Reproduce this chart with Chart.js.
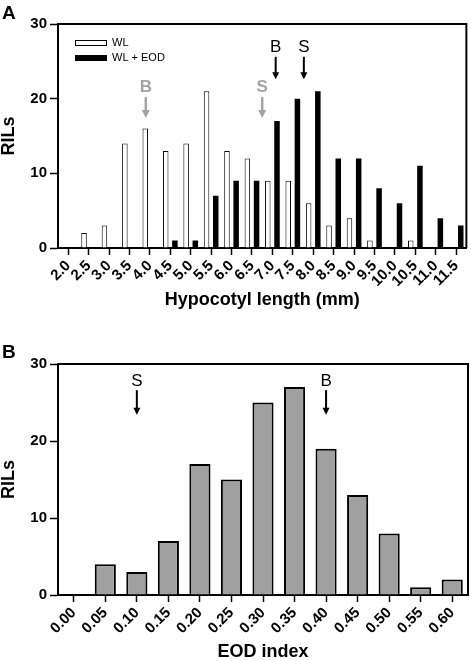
<!DOCTYPE html>
<html>
<head>
<meta charset="utf-8">
<script src="https://cdn.jsdelivr.net/npm/chart.js@4.4.1/dist/chart.umd.min.js"></script>
<style>
  html, body { margin: 0; padding: 0; background: #fff; }
  #fig { position: relative; width: 471px; height: 661px; font-family: "Liberation Sans", Arial, sans-serif; }
  .panel { position: absolute; left: 0; }
  #chart-a { top: 0; }
  #chart-b { top: 330px; }
  .letter { position: absolute; left: 2px; font-weight: bold; font-size: 19px; line-height: 1; }
</style>
</head>
<body>
<div id="fig">
  <canvas id="chart-a" class="panel" width="471" height="330"></canvas>
  <canvas id="chart-b" class="panel" width="471" height="331"></canvas>
  <div class="letter" style="top:3px">A</div>
  <div class="letter" style="top:342px">B</div>
</div>
<script>
/* Panel A: hypocotyl length histograms for the RILs under WL and WL + EOD.
 * Panel B: distribution of the EOD index. Parent lines (B, S) marked by arrows.
 */
(function () {
  "use strict";

  var lengthLabels = ["2.0", "2.5", "3.0", "3.5", "4.0", "4.5", "5.0", "5.5", "6.0", "6.5",
                      "7.0", "7.5", "8.0", "8.5", "9.0", "9.5", "10.0", "10.5", "11.0", "11.5"];
  var wlCounts  = [0, 2, 3, 14, 16, 13, 14, 21, 13, 12, 9, 9, 6, 3, 4, 1, 0, 1, 0, 0];
  var eodCounts = [0, 0, 0, 0, 0, 1, 1, 7, 9, 9, 17, 20, 21, 12, 12, 8, 6, 11, 4, 3];

  // parent means (mm) under WL (grey arrows) and WL + EOD (black arrows)
  var parentNames = ["B", "S"];
  var parentWL  = [3.9, 6.75];
  var parentEOD = [7.08, 7.77];

  var eodLabels = ["0.00", "0.05", "0.10", "0.15", "0.20", "0.25", "0.30",
                   "0.35", "0.40", "0.45", "0.50", "0.55", "0.60"];
  var eodIndexCounts = [0, 4, 3, 7, 17, 15, 25, 27, 19, 13, 8, 1, 2];
  var parentIndexNames = ["S", "B"];
  var parentIndex = [0.10, 0.40];

  var FONT = "'Liberation Sans', Arial, sans-serif";
  Chart.defaults.font.family = FONT;
  Chart.defaults.color = "#000";

  // category position (fractional) of a value on an evenly spaced label axis
  function toCat(labels, v) {
    var first = parseFloat(labels[0]), step = parseFloat(labels[1]) - first;
    return (v - first) / step;
  }

  var arrowPlugin = {
    id: "arrows",
    afterDatasetsDraw: function (chart, args, opts) {
      var ctx = chart.ctx, xs = chart.scales.x, ys = chart.scales.y;
      var items = opts.items || [];
      for (var i = 0; i < items.length; i++) {
        var m = items[i];
        var px = xs.getPixelForValue(m.at);
        var yTop = ys.getPixelForValue(m.fromY), yTip = ys.getPixelForValue(m.toY);
        ctx.save();
        ctx.fillStyle = m.color;
        ctx.strokeStyle = m.color;
        ctx.font = m.font;
        ctx.textAlign = "center";
        ctx.textBaseline = "middle";
        ctx.fillText(m.text, px, ys.getPixelForValue(m.textY));
        ctx.lineWidth = m.width;
        ctx.beginPath();
        ctx.moveTo(px, yTop);
        ctx.lineTo(px, yTip - m.head + 1);
        ctx.stroke();
        ctx.beginPath();
        ctx.moveTo(px - m.head / 2, yTip - m.head);
        ctx.lineTo(px + m.head / 2, yTip - m.head);
        ctx.lineTo(px, yTip);
        ctx.closePath();
        ctx.fill();
        ctx.restore();
      }
    }
  };

  // closed box around the plot plus an optional legend drawn inside it
  var framePlugin = {
    id: "frame",
    afterDraw: function (chart, args, opts) {
      var ctx = chart.ctx, a = chart.chartArea;
      ctx.save();
      ctx.strokeStyle = "#000";
      ctx.lineWidth = 2;
      ctx.beginPath();
      ctx.moveTo(a.left, a.top);
      ctx.lineTo(a.right, a.top);
      ctx.lineTo(a.right, a.bottom);
      ctx.stroke();
      if (opts.legend) {
        var ds = chart.data.datasets;
        ctx.font = "11px " + FONT;
        ctx.textBaseline = "middle";
        for (var i = 0; i < ds.length; i++) {
          var bx = a.left + 17, by = a.top + 16 + i * 15;
          ctx.fillStyle = ds[i].backgroundColor;
          ctx.fillRect(bx, by, 32, 6);
          ctx.lineWidth = 1;
          ctx.strokeRect(bx + 0.5, by + 0.5, 31, 5);
          ctx.fillStyle = "#000";
          ctx.fillText(ds[i].label, bx + 37, by + 3);
        }
      }
      ctx.restore();
    }
  };

  function yAxis() {
    return {
      min: 0, max: 30,
      ticks: { stepSize: 10, padding: 3, font: { size: 15, weight: "bold" } },
      grid: { drawOnChartArea: false, tickLength: 8, tickColor: "#000", tickWidth: 1.5 },
      border: { color: "#000", width: 2 },
      title: { display: true, text: "RILs", font: { size: 18, weight: "bold", lineHeight: 1 }, padding: 0 },
      afterFit: function (s) { s.width = 58; }
    };
  }

  function xAxis(title, height, titlePad) {
    return {
      offset: true,
      grid: { offset: false, drawOnChartArea: false, tickLength: 7, tickColor: "#000", tickWidth: 1.5 },
      border: { color: "#000", width: 2 },
      ticks: { autoSkip: false, minRotation: 45, maxRotation: 45, padding: 2,
               font: { size: 15, weight: "bold" } },
      title: { display: true, text: title, font: { size: 18, weight: "bold", lineHeight: 1 },
               padding: { top: 0, bottom: titlePad } },
      afterFit: function (s) { s.height = height; }
    };
  }

  var arrowsA = [];
  for (var i = 0; i < parentNames.length; i++) {
    arrowsA.push({ text: parentNames[i], at: toCat(lengthLabels, parentWL[i]), color: "#a3a3a3",
                   font: "bold 17px " + FONT, width: 2.5, head: 8, textY: 21.5, fromY: 20.2, toY: 17.4 });
    arrowsA.push({ text: parentNames[i], at: toCat(lengthLabels, parentEOD[i]), color: "#000",
                   font: "17px " + FONT, width: 2, head: 7, textY: 26.85, fromY: 25.6, toY: 22.6 });
  }

  new Chart(document.getElementById("chart-a"), {
    type: "bar",
    data: {
      labels: lengthLabels,
      datasets: [
        { label: "WL", data: wlCounts, backgroundColor: "#fff", borderColor: "#000", borderWidth: 1,
          categoryPercentage: 0.9, barPercentage: 0.6 },
        { label: "WL + EOD", data: eodCounts, backgroundColor: "#000", borderColor: "#000", borderWidth: 0,
          categoryPercentage: 0.9, barPercentage: 0.6 }
      ]
    },
    options: {
      responsive: false, animation: false,
      layout: { padding: { top: 24, right: 4, left: 0, bottom: 0 } },
      plugins: { legend: { display: false }, tooltip: { enabled: false },
                 arrows: { items: arrowsA }, frame: { legend: true } },
      scales: { x: xAxis("Hypocotyl length (mm)", 82, 21), y: yAxis() }
    },
    plugins: [arrowPlugin, framePlugin]
  });

  var arrowsB = [];
  for (i = 0; i < parentIndexNames.length; i++) {
    arrowsB.push({ text: parentIndexNames[i], at: toCat(eodLabels, parentIndex[i]), color: "#000",
                   font: "17px " + FONT, width: 2, head: 7, textY: 27.7, fromY: 26.6, toY: 23.4 });
  }

  new Chart(document.getElementById("chart-b"), {
    type: "bar",
    data: {
      labels: eodLabels,
      datasets: [
        { label: "EOD index", data: eodIndexCounts, backgroundColor: "#a0a0a0", borderColor: "#000",
          borderWidth: 2, categoryPercentage: 1, barPercentage: 0.67 }
      ]
    },
    options: {
      responsive: false, animation: false,
      layout: { padding: { top: 34, right: 3, left: 0, bottom: 0 } },
      plugins: { legend: { display: false }, tooltip: { enabled: false },
                 arrows: { items: arrowsB }, frame: { legend: false } },
      scales: { x: xAxis("EOD index", 66, 0), y: yAxis() }
    },
    plugins: [arrowPlugin, framePlugin]
  });
})();
</script>
</body>
</html>
